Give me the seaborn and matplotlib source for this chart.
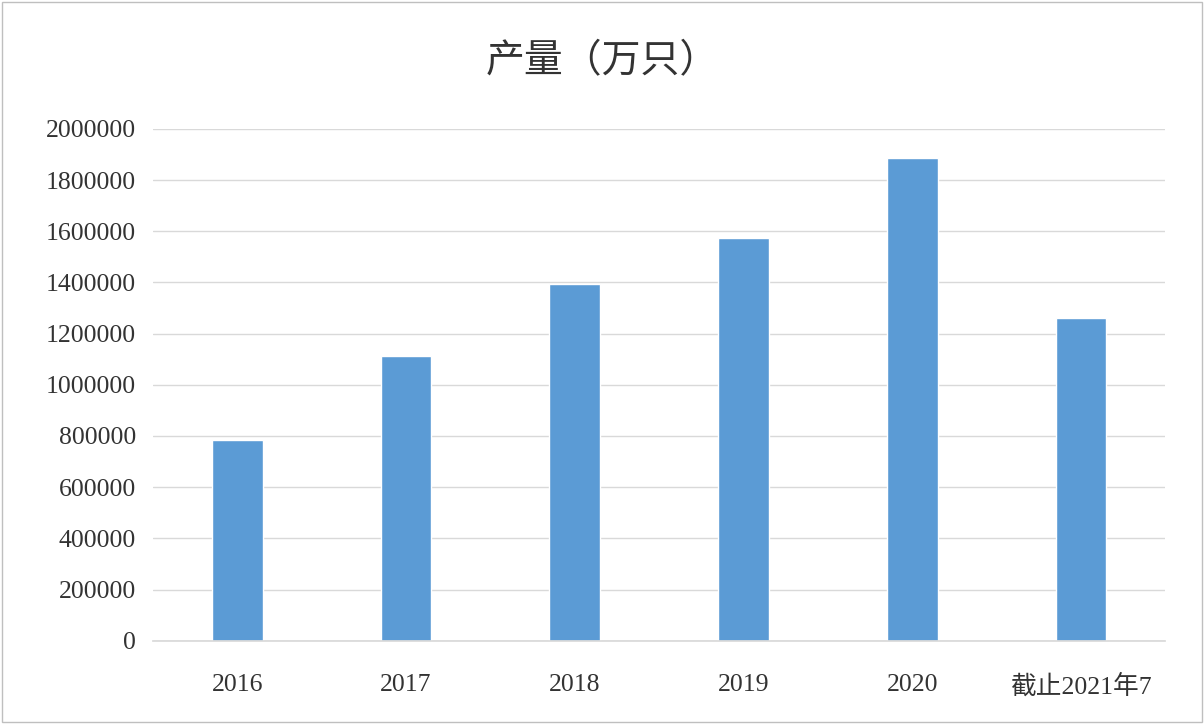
import matplotlib
matplotlib.use("Agg")
import matplotlib.pyplot as plt
import seaborn as sns
import pandas as pd
from matplotlib.patches import Rectangle

categories = ["2016", "2017", "2018", "2019", "2020", "截止2021年7"]
values = [785000, 1113000, 1395000, 1574000, 1887000, 1262000]
yticks = list(range(0, 2000001, 200000))

sns.set_theme(style="white")
plt.rcParams['font.family'] = ['Liberation Serif', 'Noto Sans CJK SC', 'DejaVu Sans']

fig = plt.figure(figsize=(12.04, 7.24), dpi=100)
ax = fig.add_axes([0.127, 0.115, 0.841, 0.707])
df = pd.DataFrame({"cat": categories, "val": values})
sns.barplot(data=df, x="cat", y="val", color="#5B9BD5", saturation=1, width=0.3, ax=ax)
ax.set_ylim(0, 2000000)
ax.set_yticks(yticks)
ax.set_yticklabels([str(v) for v in yticks])
ax.yaxis.grid(True, color="#D9D9D9", linewidth=1)
ax.set_axisbelow(True)
for s in ["top", "right", "left"]:
    ax.spines[s].set_visible(False)
ax.spines["bottom"].set_color("#D9D9D9")
ax.set_xlabel("")
ax.set_ylabel("")
ax.tick_params(axis="both", labelsize=18.5, colors="#333333", length=0, pad=12)
ax.tick_params(axis="x", pad=24)
fig.text(0.5, 0.915, "产量（万只）", ha="center", va="center", fontsize=28,
         color="#333333", family=['Noto Sans CJK SC', 'DejaVu Sans'])
fig.patches.append(Rectangle((0.002, 0.003), 0.996, 0.994, transform=fig.transFigure,
                             fill=False, edgecolor="#BFBFBF", linewidth=1))
fig.savefig("out.png", dpi=100)
